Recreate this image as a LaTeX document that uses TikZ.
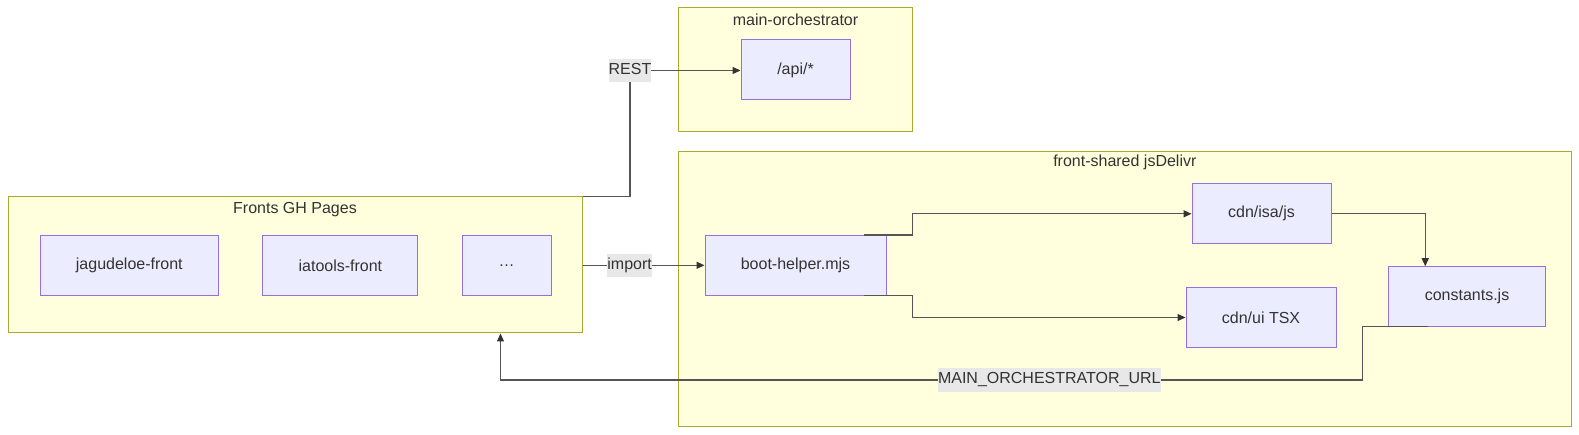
\documentclass[tikz,border=0pt]{standalone}
\usepackage{fontspec}
\setmainfont{Liberation Sans}
\usetikzlibrary{arrows.meta,positioning,calc}
\definecolor{clfill}{HTML}{FFFFDE}
\definecolor{cldraw}{HTML}{AAAA33}
\definecolor{ndfill}{HTML}{ECECFF}
\definecolor{nddraw}{HTML}{9370DB}
\definecolor{txt}{HTML}{333333}
\definecolor{edge}{HTML}{555555}
\definecolor{lblbg}{HTML}{E8E8E8}
\tikzset{
  cluster/.style={draw=cldraw, fill=clfill, line width=1pt, inner sep=0pt},
  box/.style={draw=nddraw, fill=ndfill, line width=1pt, text=txt, inner sep=0pt,
    font=\fontsize{16}{19}\selectfont},
  ttl/.style={text=txt, inner sep=0pt, font=\fontsize{16}{19}\selectfont},
  lbl/.style={fill=lblbg, text=txt, inner xsep=0pt, inner ysep=3pt,
    text height=12.5pt, text depth=4.5pt, font=\fontsize{16}{19}\selectfont},
  conn/.style={draw=edge, line width=1.3pt},
  arr/.style={conn, -{Triangle[length=8pt,width=7pt]}, arrows={[color=txt]}},
}
\begin{document}
\begin{tikzpicture}[x=1pt,y=-1pt]
\useasboundingbox (0,0) rectangle (1579,435);
% clusters
\node[cluster, minimum width=233.6pt, minimum height=124pt] (mo) at (795.5,70) {};
\node[ttl] (motitle) at (795.5,20) {main-orchestrator};
\node[cluster, minimum width=892.3pt, minimum height=274pt] (fs) at (1124.85,289) {};
\node[ttl] (fstitle) at (1124.85,162) {front-shared jsDelivr};
\node[cluster, minimum width=574pt, minimum height=136pt] (fr) at (295,265) {};
\node[ttl] (frtitle) at (295,209.5) {Fronts GH Pages};
% nodes
\node[box, minimum width=109pt, minimum height=60pt] (api) at (795.5,70) {/api/*};
\node[box, minimum width=181pt, minimum height=59.5pt] (boot) at (795.5,265.3) {boot-helper.mjs};
\node[box, minimum width=139pt, minimum height=59.7pt] (isa) at (1261.5,213.8) {cdn/isa/js};
\node[box, minimum width=150pt, minimum height=59.5pt] (ui) at (1261,317.5) {cdn/ui TSX};
\node[box, minimum width=156.5pt, minimum height=59.5pt] (const) at (1467,296.5) {constants.js};
\node[box, minimum width=178.5pt, minimum height=59.5pt] (jag) at (129.3,265.3) {jagudeloe-front};
\node[box, minimum width=155pt, minimum height=59.5pt] (iat) at (340.4,265.3) {iatools-front};
\node[box, minimum width=89pt, minimum height=59.5pt] (dots) at (506.5,265.3) {…};
% connectors
\coordinate (restc) at (630,70.5);
\draw[arr] (fr.north east) -| (restc) node[lbl]{REST} -- (api.west |- restc);
\draw[arr] (fr.east |- boot.west) -- node[lbl, pos=0.386]{import} (boot.west);
\draw[arr] ([xshift=-23pt]boot.north east) -- ++(49,0) |- (isa.west);
\draw[arr] ([xshift=-23pt]boot.south east) -- ++(49,0) |- (ui.west);
\draw[arr] (isa.east) -| ([xshift=37pt]const.north west);
\coordinate (urlturn) at (1362.7,380);
\coordinate (urlend) at (500.5,380);
\draw[arr] ([xshift=39.3pt]const.south west) -| (urlturn)
  -- node[lbl, pos=0.3635]{MAIN\_ORCHESTRATOR\_URL} (urlend) -- (urlend |- fr.south);
\end{tikzpicture}
\end{document}
